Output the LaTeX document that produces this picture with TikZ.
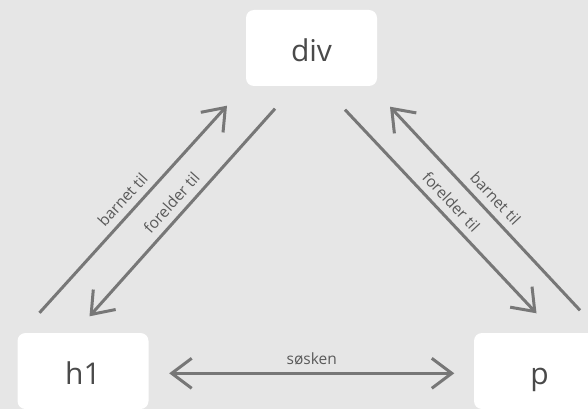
\documentclass[tikz,border=0pt]{standalone}
\usepackage{fontspec}
\setmainfont{Open Sans}
\usetikzlibrary{arrows.meta, calc}
\definecolor{bggray}{HTML}{E6E6E6}
\definecolor{linegray}{HTML}{777777}
\definecolor{nodetext}{HTML}{4A4A4A}
\definecolor{labeltext}{HTML}{5A5A5A}

\begin{document}
\begin{tikzpicture}[x=1pt, y=-1pt, >={Straight Barb[length=20pt, width=30pt]},
  elem/.style={fill=white, rounded corners=8pt, minimum width=131pt, minimum height=76pt, inner sep=0pt, text height=27pt, text depth=0pt, text=nodetext, font=\fontsize{30}{36}\selectfont},
  rel/.style={line width=3pt, draw=linegray},
  rellabel/.style={above=5pt, sloped, inner sep=2pt, text=labeltext, font=\fontsize{15.5}{18}\selectfont}]
  \useasboundingbox (0,0) rectangle (588,409);
  \fill[bggray] (0,0) rectangle (588,409);
  \clip (0,0) rectangle (588,409);
  % elementene
  \node[elem] (div) at (311.5,48) {div};
  \node[elem] (h1) at (83,371) {h1};
  \node[elem] (p) at (539.5,371) {p};
  % venstre side
  \draw[rel, ->] ($(h1.north)+(-43.5,-20)$) -- ($(div.south)+(-84.5,19.5)$) node[rellabel, pos=0.5] {barnet til};
  \draw[rel, ->] ($(div.south)+(-36.5,22.5)$) -- ($(h1.north)+(6.5,-16.5)$) node[rellabel, pos=0.5] {forelder til};
  % høyre side
  \draw[rel, ->] ($(div.south)+(33.5,23.5)$) -- ($(p.north)+(-3,-19.5)$) node[rellabel, pos=0.5] {forelder til};
  \draw[rel, ->] ($(p.north)+(40.5,-22.5)$) -- ($(div.south)+(78.5,20.5)$) node[rellabel, pos=0.5] {barnet til};
  % søsken
  \draw[rel, <->] ($(h1.east)+(20.5,2.3)$) -- ($(p.west)+(-19.5,2.3)$) node[rellabel, pos=0.5] {søsken};
\end{tikzpicture}
\end{document}
